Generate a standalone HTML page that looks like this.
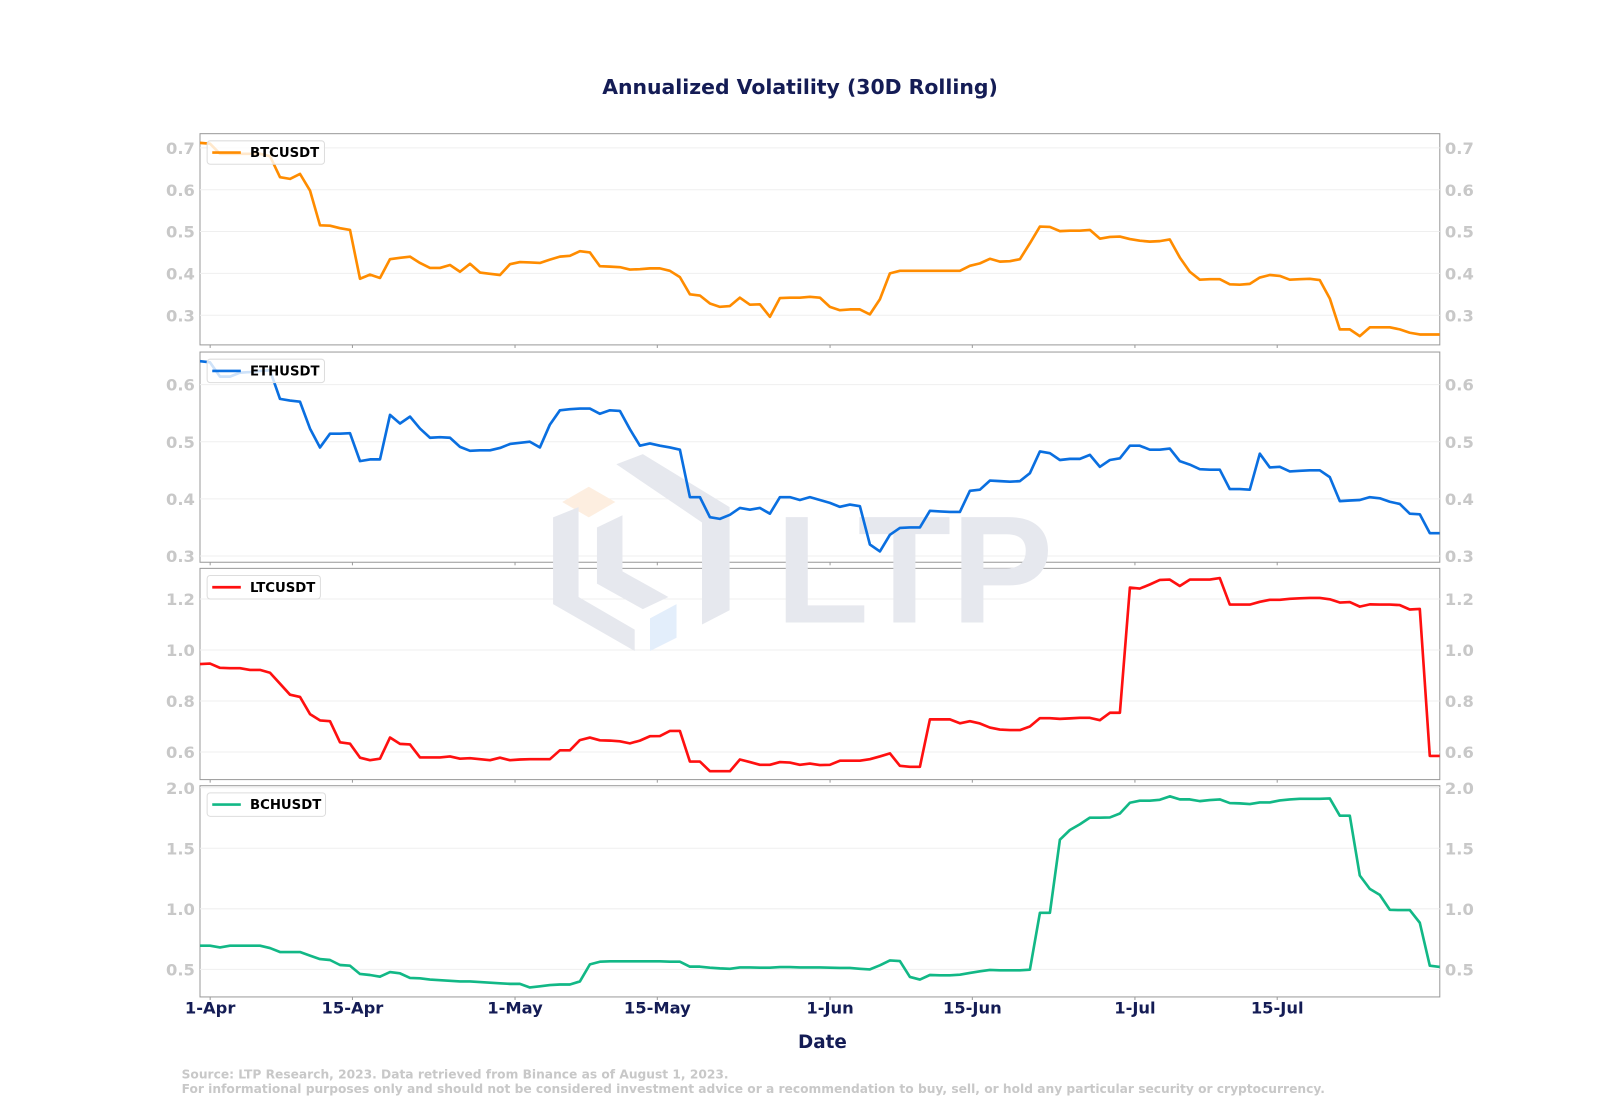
<!DOCTYPE html>
<html><head><meta charset="utf-8">
<style>
html,body{margin:0;padding:0;background:#fff;}
svg{display:block;font-family:"DejaVu Sans","Liberation Sans",sans-serif;}
</style></head>
<body>
<svg id="chart" width="1600" height="1120" viewBox="0 0 1568 1097.6" preserveAspectRatio="none" xmlns="http://www.w3.org/2000/svg">
  <rect width="1600" height="1120" fill="#fff"/>
  <text x="784" y="92" text-anchor="middle" font-size="20" font-weight="bold" fill="#141c55">Annualized Volatility (30D Rolling)</text>
  <g id="panels"></g>
  <g id="watermark" opacity="1">
    <polygon points="551,492 577,477 603,492 577,507" fill="#fdeee0"/>
    <polygon points="604,455 630,445 715,497 715,598 688,612 688,512" fill="#e6e8ee"/>
    <polygon points="542,507 567,497 567,585 622,617 622,638 542,592" fill="#e6e8ee"/>
    <polygon points="585,517 610,505 610,560 655,585 630,597 585,572" fill="#e6e8ee"/>
    <polygon points="637,606 663,592 663,625 637,638" fill="#e3eefb"/>
    <text x="760" y="610" font-size="150" font-weight="bold" fill="#e6e8ee" font-family="Liberation Sans, sans-serif">LTP</text>
  </g>
  <g id="lines"></g>
  <g id="legends"></g>
  <g id="xaxis"></g>
  <text x="806" y="1027" text-anchor="middle" font-size="18" font-weight="bold" fill="#141c55">Date</text>
  <text x="178" y="1057" font-size="12" font-weight="bold" fill="#c8c8c8">Source: LTP Research, 2023. Data retrieved from Binance as of August 1, 2023.</text>
  <text x="178" y="1071" font-size="12" font-weight="bold" fill="#c8c8c8">For informational purposes only and should not be considered investment advice or a recommendation to buy, sell, or hold any particular security or cryptocurrency.</text>
</svg>
<script>
const btcValues=[0.712,0.710,0.686,0.686,0.686,0.686,0.686,0.680,0.630,0.626,0.638,0.598,0.515,0.514,0.508,0.504,0.387,0.397,0.389,0.434,0.437,0.440,0.425,0.413,0.413,0.420,0.404,0.423,0.402,0.399,0.396,0.422,0.427,0.426,0.425,0.433,0.440,0.442,0.453,0.450,0.417,0.416,0.415,0.409,0.410,0.412,0.412,0.406,0.391,0.350,0.347,0.328,0.320,0.322,0.342,0.325,0.326,0.296,0.341,0.342,0.342,0.344,0.342,0.320,0.312,0.314,0.314,0.302,0.338,0.400,0.406,0.406,0.406,0.406,0.406,0.406,0.406,0.418,0.424,0.435,0.428,0.429,0.434,0.472,0.512,0.511,0.501,0.502,0.502,0.504,0.483,0.487,0.488,0.482,0.478,0.476,0.477,0.481,0.438,0.404,0.385,0.386,0.386,0.374,0.373,0.375,0.390,0.396,0.394,0.385,0.386,0.387,0.384,0.340,0.266,0.266,0.250,0.271,0.271,0.271,0.266,0.258,0.254,0.254,0.254];
const ethValues=[0.641,0.639,0.614,0.614,0.621,0.622,0.624,0.625,0.575,0.572,0.570,0.523,0.490,0.514,0.514,0.515,0.466,0.469,0.469,0.547,0.532,0.544,0.523,0.507,0.508,0.507,0.491,0.484,0.485,0.485,0.489,0.496,0.498,0.500,0.490,0.530,0.555,0.557,0.558,0.558,0.549,0.555,0.554,0.522,0.493,0.497,0.493,0.490,0.486,0.403,0.403,0.368,0.365,0.372,0.384,0.381,0.384,0.374,0.403,0.403,0.398,0.403,0.398,0.393,0.386,0.390,0.387,0.320,0.308,0.337,0.349,0.350,0.350,0.379,0.378,0.377,0.377,0.414,0.416,0.432,0.431,0.430,0.431,0.445,0.483,0.480,0.468,0.470,0.470,0.477,0.456,0.468,0.471,0.493,0.493,0.486,0.486,0.488,0.466,0.460,0.452,0.451,0.451,0.417,0.417,0.416,0.479,0.455,0.456,0.448,0.449,0.450,0.450,0.438,0.396,0.397,0.398,0.403,0.401,0.395,0.391,0.374,0.373,0.340,0.340];
const ltcValues=[0.945,0.947,0.930,0.929,0.929,0.922,0.922,0.911,0.868,0.825,0.816,0.749,0.724,0.721,0.638,0.633,0.578,0.568,0.574,0.657,0.632,0.630,0.579,0.579,0.579,0.583,0.574,0.576,0.572,0.568,0.578,0.568,0.571,0.572,0.572,0.572,0.607,0.607,0.647,0.657,0.646,0.645,0.642,0.634,0.645,0.662,0.663,0.683,0.683,0.563,0.563,0.525,0.525,0.525,0.571,0.561,0.550,0.550,0.561,0.559,0.550,0.555,0.549,0.550,0.566,0.566,0.566,0.572,0.583,0.595,0.546,0.542,0.542,0.728,0.728,0.728,0.713,0.721,0.712,0.696,0.688,0.686,0.686,0.700,0.733,0.733,0.730,0.732,0.734,0.734,0.725,0.754,0.754,1.245,1.241,1.257,1.275,1.276,1.251,1.276,1.276,1.276,1.282,1.178,1.178,1.178,1.189,1.197,1.197,1.201,1.203,1.204,1.204,1.199,1.186,1.188,1.170,1.179,1.178,1.178,1.176,1.159,1.161,0.585,0.585];
const bchValues=[0.695,0.695,0.681,0.695,0.695,0.695,0.695,0.676,0.643,0.643,0.643,0.613,0.585,0.577,0.536,0.530,0.462,0.453,0.440,0.478,0.467,0.429,0.426,0.415,0.410,0.405,0.400,0.400,0.395,0.390,0.385,0.380,0.380,0.350,0.360,0.370,0.375,0.375,0.400,0.541,0.563,0.566,0.566,0.566,0.566,0.566,0.566,0.563,0.563,0.522,0.522,0.514,0.508,0.505,0.516,0.516,0.514,0.514,0.519,0.519,0.516,0.516,0.516,0.514,0.511,0.511,0.505,0.500,0.533,0.574,0.569,0.437,0.415,0.453,0.451,0.451,0.456,0.470,0.484,0.495,0.492,0.492,0.492,0.497,0.967,0.967,1.571,1.651,1.698,1.753,1.753,1.755,1.788,1.876,1.893,1.893,1.901,1.929,1.904,1.904,1.890,1.898,1.904,1.874,1.871,1.865,1.879,1.879,1.896,1.904,1.909,1.909,1.909,1.912,1.769,1.769,1.275,1.165,1.115,0.992,0.989,0.989,0.885,0.530,0.520];
const seriesNames=["BTCUSDT","ETHUSDT","LTCUSDT","BCHUSDT"];
const btcTicks=[0.3,0.4,0.5,0.6,0.7];
const ethTicks=[0.3,0.4,0.5,0.6];
const ltcTicks=[0.6,0.8,1.0,1.2];
const bchTicks=[0.5,1.0,1.5,2.0];
const xTickLabels=["1-Apr","15-Apr","1-May","15-May","1-Jun","15-Jun","1-Jul","15-Jul"];
const xTickDays=[1,15,31,45,62,76,92,106];

const NS="http://www.w3.org/2000/svg";
const X0=196,X1=1411;
const DAYS=122;
const panels=[
 {vals:btcValues,ticks:btcTicks,top:131,bot:338,ymin:0.229,ymax:0.734,color:"#ff8c00",dec:1,lw:115},
 {vals:ethValues,ticks:ethTicks,top:345,bot:551,ymin:0.289,ymax:0.657,color:"#0a6fe0",dec:1,lw:115},
 {vals:ltcValues,ticks:ltcTicks,top:557,bot:764,ymin:0.492,ymax:1.32,color:"#ff1010",dec:1,lw:111},
 {vals:bchValues,ticks:bchTicks,top:770,bot:977,ymin:0.272,ymax:2.017,color:"#12b886",dec:1,lw:116}
];
const N=btcValues.length;
function xScale(i){return X0+i*(X1-X0)/(N-1);}
function xDate(d){return X0+d*(X1-X0)/DAYS;}
function mk(tag,attrs,parent){const e=document.createElementNS(NS,tag);for(const k in attrs)e.setAttribute(k,attrs[k]);parent.appendChild(e);return e;}
const gP=document.getElementById("panels"),gL=document.getElementById("lines"),gLeg=document.getElementById("legends"),gX=document.getElementById("xaxis");
panels.forEach((p,pi)=>{
  const y=v=>p.bot-(v-p.ymin)/(p.ymax-p.ymin)*(p.bot-p.top);
  const name=seriesNames[pi].toLowerCase();
  const frame=mk("rect",{x:X0,y:p.top,width:X1-X0,height:p.bot-p.top,fill:"#fff",stroke:"#9a9a9a","stroke-width":1},gP);
  
  
  p.ticks.forEach(t=>{
    const yy=y(t);
    const gl=mk("line",{x1:X0,x2:X1,y1:yy,y2:yy,stroke:"#efefef","stroke-width":1},gP);
    
    
    const lab=t.toFixed(p.dec);
    const tl=mk("text",{x:X0-5,y:yy+6,"text-anchor":"end","font-size":16,"font-weight":"bold",fill:"#c8c8c8"},gP);
    tl.textContent=lab;
    
    
    const tr=mk("text",{x:X1+5,y:yy+6,"text-anchor":"start","font-size":16,"font-weight":"bold",fill:"#c8c8c8"},gP);
    tr.textContent=lab;
    
    
  });
  xTickDays.forEach(d=>{
    const tk=mk("line",{x1:xDate(d),x2:xDate(d),y1:p.bot,y2:p.bot+3,stroke:"#9a9a9a","stroke-width":1},gP);
    
    
  });
  const pts=p.vals.map((v,i)=>xScale(i).toFixed(1)+","+y(v).toFixed(1)).join(" ");
  const cp=mk("clipPath",{id:"clip"+pi},gL);
  mk("rect",{x:X0,y:p.top,width:X1-X0,height:p.bot-p.top},cp);
  const line=mk("polyline",{points:pts,fill:"none",stroke:p.color,"stroke-width":2.6,"stroke-linejoin":"round","clip-path":"url(#clip"+pi+")"},gL);
  
  
  const lg=mk("g",{},gLeg);
  
  
  mk("rect",{x:203,y:p.top+7,width:p.lw,height:23,rx:3,fill:"#fff","fill-opacity":0.8,stroke:"#dddddd","stroke-width":1},lg);
  mk("line",{x1:208,x2:236,y1:p.top+18.5,y2:p.top+18.5,stroke:p.color,"stroke-width":2.6},lg);
  const lt=mk("text",{x:245,y:p.top+23,"font-size":13,"font-weight":"bold",fill:"#000"},lg);
  lt.textContent=seriesNames[pi];
});
xTickLabels.forEach((lab,k)=>{
  const t=mk("text",{x:xDate(xTickDays[k]),y:993,"text-anchor":"middle","font-size":16,"font-weight":"bold",fill:"#141c55"},gX);
  t.textContent=lab;
  
  
});
</script>
</body></html>
